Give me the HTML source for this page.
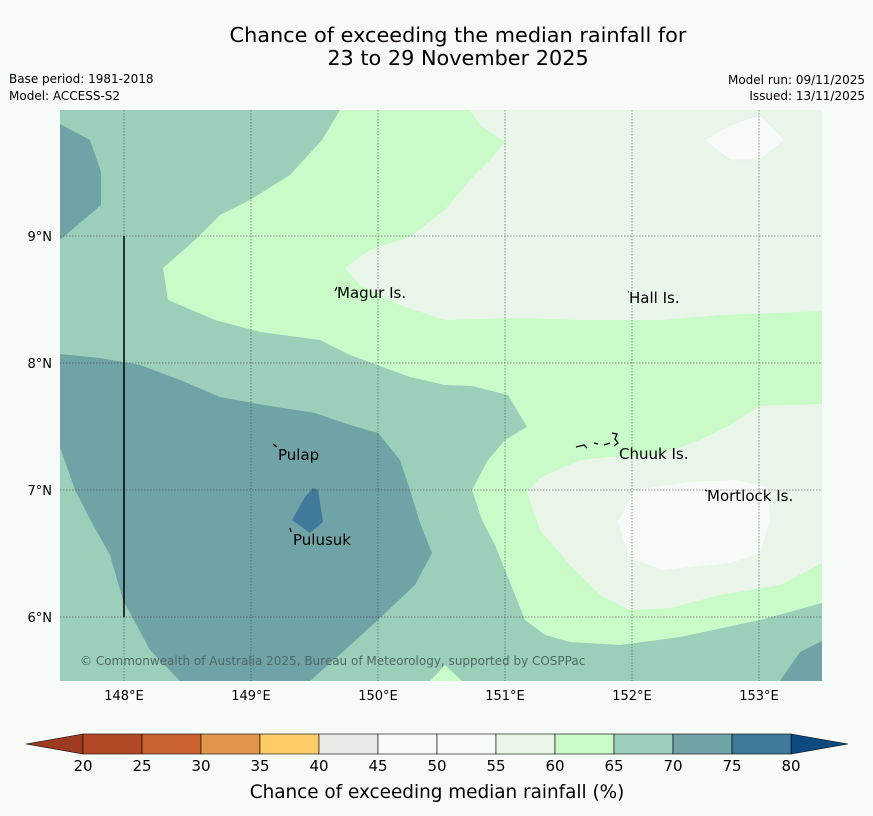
<!DOCTYPE html>
<html><head><meta charset="utf-8"><style>
body{margin:0;background:#f7fbf7;font-family:"Liberation Sans","DejaVu Sans",sans-serif;}
svg{display:block}
</style></head><body>
<svg id="s" width="873" height="816" xmlns="http://www.w3.org/2000/svg" font-family="DejaVu Sans, Liberation Sans, sans-serif">
<rect width="873" height="816" fill="#f7fbf7"/>
<text x="458" y="42" text-anchor="middle" font-size="20.8" fill="#000">Chance of exceeding the median rainfall for</text>
<text x="458" y="65" text-anchor="middle" font-size="20.8" fill="#000">23 to 29 November 2025</text>
<text x="9" y="83" font-size="12">Base period: 1981-2018</text>
<text x="9" y="100" font-size="12">Model: ACCESS-S2</text>
<text x="865" y="84" font-size="12" text-anchor="end">Model run: 09/11/2025</text>
<text x="865" y="100" font-size="12" text-anchor="end">Issued: 13/11/2025</text>
<defs><clipPath id="mc"><rect x="60" y="110" width="762" height="571"/></clipPath></defs>
<g id="map" clip-path="url(#mc)">
<rect x="60" y="110" width="762" height="571" fill="#9ccfb9"/>
<polygon fill="#c9fbc9" points="340,110 322,140 290,175 250,200 220,215 195,240 163,268 168,300 215,320 260,332 320,340 350,355 410,377 445,385 472,386 508,395 527,427 505,440 488,460 472,490 482,520 495,545 505,570 525,620 545,635 570,642 620,645 680,637 760,620 822,603 822,110"/>
<polygon fill="#c9fbc9" points="430,681 445,665 462,681"/>
<polygon fill="#eaf5ea" points="470,110 480,125 505,142 490,160 470,180 445,210 410,237 370,250 345,268 360,285 400,305 445,320 520,318 580,320 660,320 720,315 822,311 822,110"/>
<polygon fill="#eaf5ea" points="822,404 760,406 730,425 700,440 660,455 610,457 580,460 540,478 527,492 540,530 570,565 600,595 630,610 670,608 720,595 780,585 822,563"/>
<polygon fill="#f7fbf7" points="635,490 690,482 735,480 768,487 770,520 760,553 730,563 690,567 662,570 630,558 618,522"/>
<polygon fill="#f7fbf7" stroke="#dfe8df" stroke-width="0.5" points="704,140 730,125 760,115 785,140 760,160 730,160"/>
<polygon fill="#6fa3a6" points="60,354 100,358 140,365 180,380 220,397 270,406 315,413 350,425 378,433 400,460 410,490 420,523 432,553 415,585 380,618 345,650 320,672 310,681 180,681 150,650 123,600 110,555 92,523 75,490 60,447"/>
<polygon fill="#6fa3a6" points="60,124 90,140 101,172 101,205 60,240"/>
<polygon fill="#6fa3a6" points="822,641 800,652 780,681 822,681"/>
<polygon fill="#41799a" points="292,520 305,497 313,488 318,490 323,522 310,533"/>
<g id="grid"></g>
<line x1="124" y1="236" x2="124" y2="617" stroke="#000" stroke-width="1.5"/>
</g>
<g id="labels" font-size="15" fill="#000">
<text x="337" y="298">Magur Is.</text>
<text x="629" y="303">Hall Is.</text>
<text x="278" y="460">Pulap</text>
<text x="619" y="459">Chuuk Is.</text>
<text x="707" y="501">Mortlock Is.</text>
<text x="293" y="545">Pulusuk</text>
<path d="M335,291 l2,-4 M273,444 l4,3 M290,528 l1,4 M576,447 l8,-2 l3,3 M594,443 l4,1 M604,445 l6,-2 M612,433 l5,1 l-2,5 l3,4 l-4,3 M628,292 l1,0 M705,490 l2,1" stroke="#000" stroke-width="1.3" fill="none"/>
</g>
<text x="80" y="665" font-size="12" fill="#4d6a66">© Commonwealth of Australia 2025, Bureau of Meteorology, supported by COSPPac</text>
<g id="axes" font-size="13"></g>
<g id="cbar"></g>
<text x="437" y="798" text-anchor="middle" font-size="18.4">Chance of exceeding median rainfall (%)</text>
</svg>
<script>
const lonTicks=[148,149,150,151,152,153];
const latTicks=[9,8,7,6];
const cbLevels=[20,25,30,35,40,45,50,55,60,65,70,75,80];
const cbColors=["#b34a25","#cc6232","#e0954b","#fdcc66","#e8ebe5","#f7fbf7","#f7fbf7","#eaf5ea","#c9fbc9","#9ccfb9","#6fa3a6","#41799a"];
const NS="http://www.w3.org/2000/svg";
const xLon=l=>124+(l-148)*127;
const yLat=l=>236-(l-9)*127;
const xCb=v=>83+(v-20)*(708/60);
function mk(t,a,p){const e=document.createElementNS(NS,t);for(const k in a)e.setAttribute(k,a[k]);p.appendChild(e);return e;}
const grid=document.getElementById('grid'),axes=document.getElementById('axes'),cb=document.getElementById('cbar');
lonTicks.forEach(l=>{const x=xLon(l);
const g=mk('line',{x1:x,y1:110,x2:x,y2:681,stroke:'#333','stroke-width':0.5,'stroke-dasharray':'1.5,1.5'},grid);


const t=mk('text',{x:x,y:700,'text-anchor':'middle'},axes);t.textContent=l+'°E';

});
latTicks.forEach(l=>{const y=yLat(l);
const g=mk('line',{x1:60,y1:y,x2:822,y2:y,stroke:'#333','stroke-width':0.5,'stroke-dasharray':'1.5,1.5'},grid);


const t=mk('text',{x:52,y:y+5,'text-anchor':'end'},axes);t.textContent=l+'°N';

});
const lt=mk('polygon',{points:`${xCb(20)},734 26,744 ${xCb(20)},754`,fill:'#9e3a1f',stroke:'#000','stroke-width':0.6},cb);


const rt=mk('polygon',{points:`${xCb(80)},734 848,744 ${xCb(80)},754`,fill:'#0f4a7f',stroke:'#000','stroke-width':0.6},cb);


cbColors.forEach((c,i)=>{const x0=xCb(cbLevels[i]),x1=xCb(cbLevels[i+1]);
const r=mk('rect',{x:x0,y:734,width:x1-x0,height:20,fill:c,stroke:'#000','stroke-width':0.6},cb);

});
cbLevels.forEach(v=>{const t=mk('text',{x:xCb(v),y:771,'text-anchor':'middle','font-size':15},cb);t.textContent=v;

});
</script>
</body></html>
